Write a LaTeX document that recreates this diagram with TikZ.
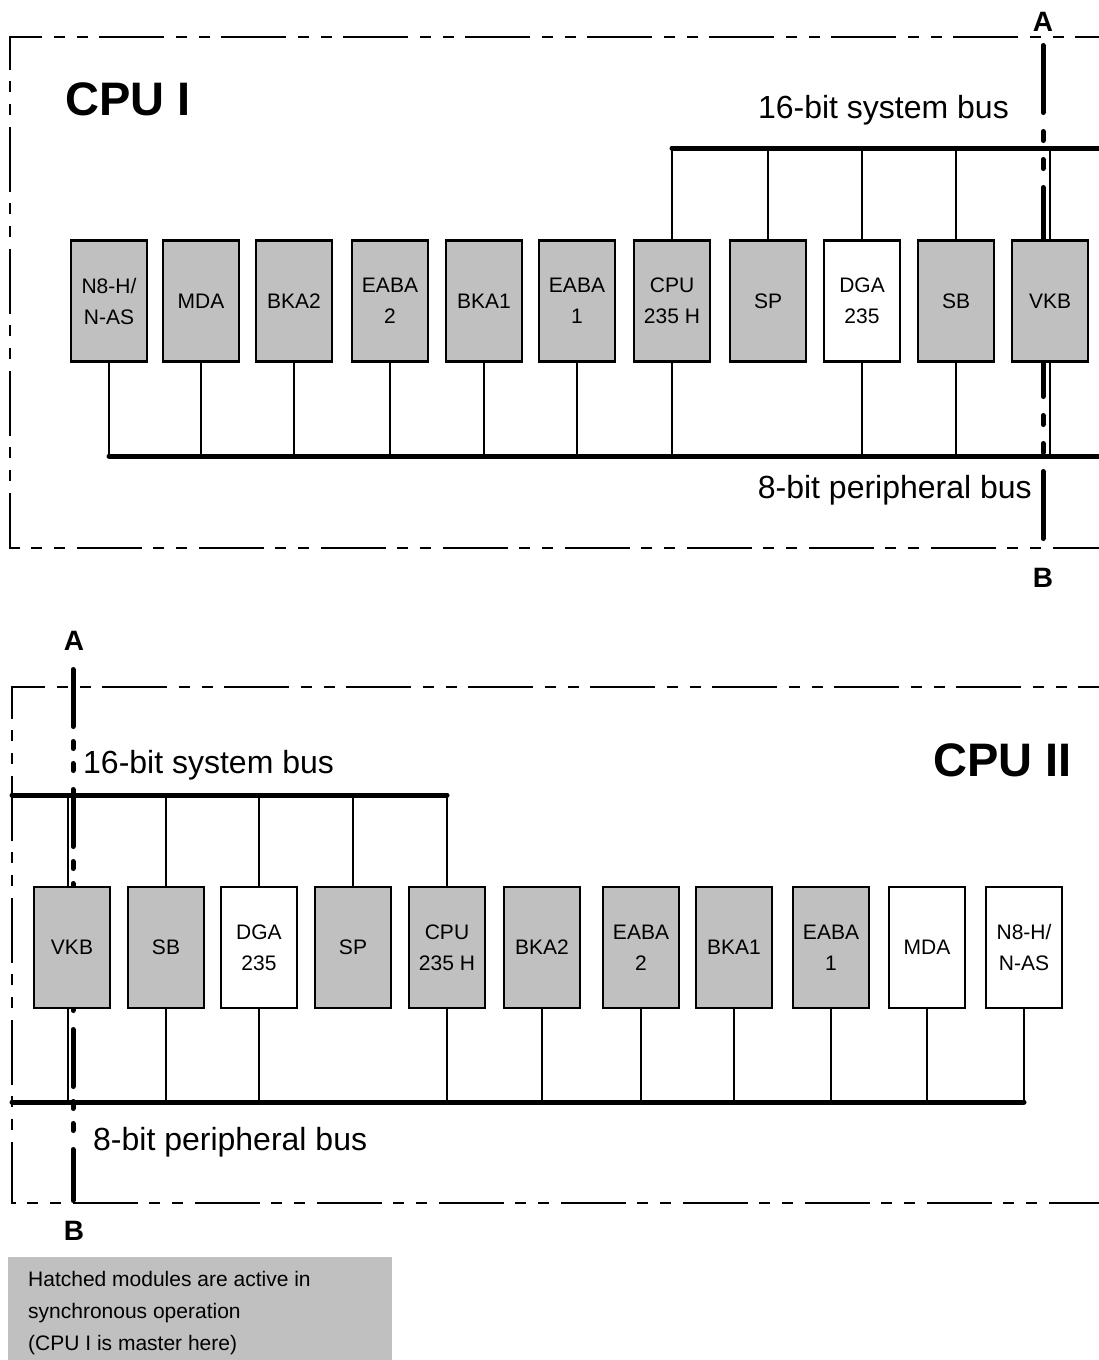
\documentclass[tikz,border=0pt]{standalone}
\usepackage{fontspec}
\setmainfont{Liberation Sans}
\definecolor{modgray}{RGB}{192,192,192}
\tikzset{
 frame/.style={line width=2pt, dash pattern=on 65pt off 11pt on 11pt off 12pt on 11pt off 12pt},
 cutA/.style={line width=5pt, line cap=round, dash pattern=on 67pt off 19pt on 9pt off 19pt on 9pt off 19pt},
 cutB/.style={line width=5pt, line cap=round, dash pattern=on 57pt off 15pt on 7pt off 15pt on 7pt off 19pt},
 bus/.style={line width=5pt, line cap=round},
 drop/.style={line width=2pt},
 mod/.style={draw, line width=2.5pt, fill=modgray, minimum width=76pt, minimum height=121pt, inner sep=0pt, align=center, font=\fontsize{21}{31}\selectfont},
 modw/.style={mod, fill=white},
 buslbl/.style={inner sep=0pt, font=\fontsize{32}{38}\selectfont},
 cpulbl/.style={inner sep=0pt, font=\bfseries\fontsize{47}{56}\selectfont},
 cutlbl/.style={inner sep=0pt, font=\bfseries\fontsize{28}{34}\selectfont},
 legtxt/.style={inner sep=0pt, anchor=base west, font=\fontsize{21}{32}\selectfont},
}
\begin{document}
\begin{tikzpicture}[x=1pt,y=-1pt]
\useasboundingbox (0,0) rectangle (1099,1360);

% ---------- frames ----------
\draw[frame] (1140,37) -- (10,37) -- (10,548) -- (1140,548);
\draw[frame] (1143,687) -- (12,687) -- (12,1203) -- (1143,1203);

% ---------- CPU I ----------
\node[cpulbl, anchor=base west] (cpuI) at (65,115) {CPU I};
\node[buslbl, anchor=base east] (sysI) at (1009,118) {16-bit system bus};
\node[buslbl, anchor=base east] (perI) at (1032,498) {8-bit peripheral bus};

\coordinate (A1) at (1043,45.5);
\coordinate (B1) at (1043,540.5);
\draw[cutA] (A1) -- (B1);
\node[cutlbl] (Atop) at (1043,22) {A};
\node[cutlbl] (Btop) at (1043,578) {B};

\coordinate (sbusIR) at (1110,148);
\coordinate (pbusIR) at (1110,456);

\node[mod]  (t1)  at (109,301) {N8-H/\\N-AS};
\node[mod]  (t2)  at (201,301) {MDA};
\node[mod]  (t3)  at (294,301) {BKA2};
\node[mod]  (t4)  at (390,301) {EABA\\2};
\node[mod]  (t5)  at (484,301) {BKA1};
\node[mod]  (t6)  at (577,301) {EABA\\1};
\node[mod]  (t7)  at (672,301) {CPU\\235 H};
\node[mod]  (t8)  at (768,301) {SP};
\node[modw] (t9)  at (862,301) {DGA\\235};
\node[mod]  (t10) at (956,301) {SB};
\node[mod]  (t11) at (1050,301) {VKB};

\draw[bus] (t7.north |- sbusIR) -- (sbusIR);
\draw[bus] (t1.south |- pbusIR) -- (pbusIR);
\foreach \m in {t7,t8,t9,t10,t11}
  \draw[drop] (\m.north) -- (\m.north |- sbusIR);
\foreach \m in {t1,t2,t3,t4,t5,t6,t7,t9,t10,t11}
  \draw[drop] (\m.south) -- (\m.south |- pbusIR);

% ---------- CPU II ----------
\node[cpulbl, anchor=base east] (cpuII) at (1072,776) {CPU II};
\node[buslbl, anchor=base west] (sysII) at (83,773) {16-bit system bus};
\node[buslbl, anchor=base west] (perII) at (93,1150) {8-bit peripheral bus};

\coordinate (A2) at (73,669.5);
\coordinate (B2) at (73,1200.5);
\draw[cutB] (A2) -- (B2);
\node[cutlbl] (Abot) at (74,641) {A};
\node[cutlbl] (Bbot) at (74,1231) {B};

\coordinate (sbusIIL) at (12,795);
\coordinate (pbusIIL) at (12,1102);

\node[mod]  (b1)  at (72,947.5) {VKB};
\node[mod]  (b2)  at (166,947.5) {SB};
\node[modw] (b3)  at (259,947.5) {DGA\\235};
\node[mod]  (b4)  at (353,947.5) {SP};
\node[mod]  (b5)  at (447,947.5) {CPU\\235 H};
\node[mod]  (b6)  at (542,947.5) {BKA2};
\node[mod]  (b7)  at (641,947.5) {EABA\\2};
\node[mod]  (b8)  at (734,947.5) {BKA1};
\node[mod]  (b9)  at (831,947.5) {EABA\\1};
\node[modw] (b10) at (927,947.5) {MDA};
\node[modw] (b11) at (1024,947.5) {N8-H/\\N-AS};

\coordinate (vkbdropN) at ([xshift=-4pt]b1.north);
\coordinate (vkbdropS) at ([xshift=-4pt]b1.south);

\draw[bus] (sbusIIL) -- (sbusIIL -| b5.north);
\draw[bus] (pbusIIL) -- (pbusIIL -| b11.south);
\draw[drop] (vkbdropN) -- (vkbdropN |- sbusIIL);
\draw[drop] (vkbdropS) -- (vkbdropS |- pbusIIL);
\foreach \m in {b2,b3,b4,b5}
  \draw[drop] (\m.north) -- (\m.north |- sbusIIL);
\foreach \m in {b2,b3,b5,b6,b7,b8,b9,b10,b11}
  \draw[drop] (\m.south) -- (\m.south |- pbusIIL);

% ---------- legend ----------
\node[fill=modgray, minimum width=384pt, minimum height=106pt, anchor=north west, inner sep=0pt] (legend) at (8,1257) {};
\node[legtxt] (leg1) at (28,1286) {Hatched modules are active in};
\node[legtxt] (leg2) at (28,1318) {synchronous operation};
\node[legtxt] (leg3) at (28,1350) {(CPU I is master here)};
\end{tikzpicture}
\end{document}
